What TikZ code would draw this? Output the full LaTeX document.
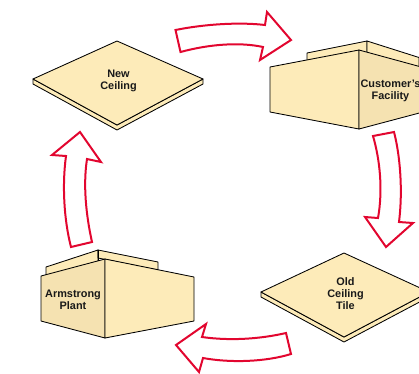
\documentclass[tikz,border=0pt]{standalone}
\usepackage{fontspec}
\setmainfont{Liberation Sans}
\definecolor{creamtop}{HTML}{FDEBB9}
\definecolor{creamside}{HTML}{F5E2B1}
\definecolor{flowred}{HTML}{E2062F}
\tikzset{
  face/.style={draw=black,line width=0.85pt,line join=round,fill=creamtop},
  sideface/.style={face,fill=creamside},
  flowarrow/.style={draw=flowred,line width=2pt,fill=white,line join=miter},
  lab/.style={font=\bfseries\fontsize{10.9}{11.7}\selectfont,align=center,text=black!90,inner sep=0pt}
}
\begin{document}
\begin{tikzpicture}[x=1pt,y=-1pt]
\useasboundingbox (0,0) rectangle (419,373);
\clip (0,0) rectangle (419,373);
% New ceiling
\path[face] (33,79) -- (33,84) -- (117,130) -- (203,84) -- (203,79) -- (117,125) -- cycle;
\path[face] (117,41) -- (203,79) -- (117,125) -- (33,79) -- cycle;
\node[lab] (newceil) at (118.5,81) {New\\Ceiling};
% Old ceiling
\path[face] (261,292) -- (261,297) -- (344,342) -- (429,297) -- (429,292) -- (344,337) -- cycle;
\path[face] (344,253) -- (429,292) -- (344,337) -- (261,292) -- cycle;
\node[lab] (oldceil) at (345.5,293.5) {Old\\Ceiling\\Tile};
% Customer's facility
\path[face] (307,61) -- (307,53) -- (367,41) -- (367,55) -- cycle;
\path[face] (367,41) -- (419,57.5) -- (419,68) -- (367,55) -- cycle;
\path[face] (270,67) -- (359,50) -- (359,129) -- (270,112) -- cycle;
\path[sideface] (359,50) -- (425,68) -- (425,111.5) -- (359,129) -- cycle;
\node[lab] (cust) at (390.5,90.5) {Customer's\\Facility};
% Armstrong plant
\path[face] (46,276) -- (46,267) -- (98,250) -- (98,262) -- cycle;
\path[face] (98,250) -- (158,262) -- (158,270) -- (98,258) -- cycle;
\path[sideface] (41,276) -- (105,259) -- (105,338) -- (41,321) -- cycle;
\path[face] (105,259) -- (194,277) -- (194,321) -- (105,338) -- cycle;
\draw[face,fill=none] (98,250) -- (98,261);
\node[lab] (plant) at (73,299.5) {Armstrong\\Plant};
% Flow arrows
\path[flowarrow] (175.5,30) .. controls (205,24) and (240,22) .. (265,25) -- (267,12) -- (291,40) -- (260,60) -- (263,47) .. controls (240,42) and (210,44) .. (180.5,52) -- cycle;
\path[flowarrow] (394,132) .. controls (400,155) and (403,190) .. (399,222) -- (413,223) -- (386,247) -- (365,217) -- (378,218) .. controls (383,190) and (380,160) .. (373,136) -- cycle;
\path[flowarrow] (291,354) .. controls (265,362) and (230,363) .. (203,358) -- (199,372) -- (176,345) -- (206,324) -- (202,337) .. controls (230,341) and (260,339) .. (286,333) -- cycle;
\path[flowarrow] (71,247) .. controls (64,220) and (62,185) .. (66,156) -- (52,155) -- (80,132) -- (101,162) -- (87,159) .. controls (83,185) and (86,215) .. (92,242) -- cycle;
\end{tikzpicture}
\end{document}
